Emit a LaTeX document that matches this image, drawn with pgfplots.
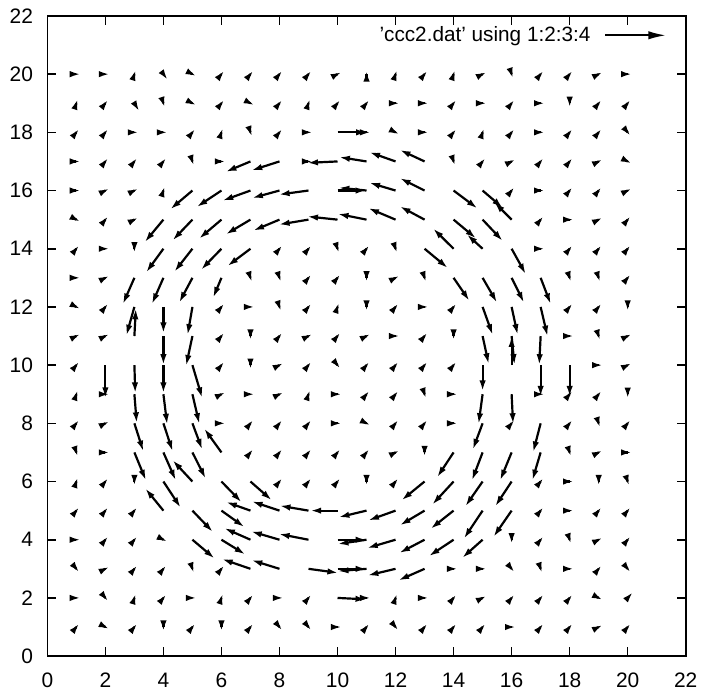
\documentclass[border=0pt]{standalone}
\usepackage{fontspec}
\setmainfont{Liberation Sans}
\usepackage{pgfplots}
\pgfplotsset{compat=1.18}
\usepackage{pgfplotstable}
\usetikzlibrary{arrows.meta}
\pgfplotsset{legarrow/.style={legend image code/.code={\draw[black, line width=1.1pt, -{Latex[length=9pt,width=4.2pt]}] (0pt,0pt) -- (30.5pt,0pt);}}}
\pgfplotstableread{
x y u v
1 20 0.15 0
2 20 0.15 0
3 20 0.05 0.15
4 20 0.15 -0.2
5 20 0.14 -0.07
6 20 0.1 0.12
7 20 0.1 0.12
8 20 0.1 0.12
9 20 0.1 0.12
10 20 0.14 0.07
11 20 0 0.12
12 20 0.05 0.15
13 20 0.1 0.12
14 20 0.05 0.15
15 20 0.14 0.07
16 20 0.05 -0.15
17 20 0.1 0.12
18 20 0.1 0.12
19 20 0.14 0.07
20 20 0.15 0
1 19 0.05 0.15
2 19 0.1 0.12
3 19 0.17 -0.28
4 19 0.05 -0.15
5 19 0.14 -0.07
6 19 0.1 0.12
7 19 0.14 -0.07
8 19 0.1 0.12
9 19 0.05 0.15
10 19 0.1 0.12
11 19 0.1 0.12
12 19 0.15 0
13 19 0.15 0
14 19 0.1 0.12
15 19 0.15 0
16 19 0.1 0.12
17 19 0.15 0
18 19 0 -0.15
19 19 0.1 0.12
20 19 0.1 0.12
1 18 0.1 0.12
2 18 0.1 0.12
3 18 0.15 0
4 18 0.15 0
5 18 0.1 0.12
6 18 0.05 0.15
7 18 0.05 -0.15
8 18 0.1 0.12
9 18 0.15 0
10 18 1.02 0
11 18 0.15 0
12 18 0.14 -0.07
13 18 0.15 0
14 18 0.1 0.12
15 18 0.05 0.15
16 18 0.1 0.12
17 18 0.15 0
18 18 0.1 0.12
19 18 0.1 0.12
20 18 0.1 -0.12
1 17 0.15 0
2 17 0.1 0.12
3 17 0.1 0.12
4 17 0.1 0.12
5 17 0.05 -0.15
6 17 0.15 0
7 17 -0.86 -0.36
8 17 -0.97 -0.31
9 17 0.15 0
10 17 -1.05 -0.05
11 17 -0.95 0.15
12 17 -0.91 0.32
13 17 -0.86 0.4
14 17 0.05 -0.15
15 17 0.1 0.12
16 17 0.14 0.07
17 17 0.1 0.12
18 17 0.1 0.12
19 17 0.14 0.07
20 17 0.14 -0.07
1 16 0.15 0
2 16 0.14 0.07
3 16 0.14 0.07
4 16 0.05 0.15
5 16 -0.77 -0.65
6 16 -0.86 -0.57
7 16 -0.97 -0.35
8 16 -0.95 -0.26
9 16 -1.03 -0.14
10 16 1.0 0
11 16 -0.97 0.1
12 16 -0.91 0.27
13 16 -0.86 0.43
14 16 0.83 -0.62
15 16 0.7 -0.6
16 16 0.1 0.12
17 16 0.15 0
18 16 0.1 0.12
19 16 0.1 0.12
20 16 0.14 0.07
1 15 0.14 -0.07
2 15 0.1 0.12
3 15 0.14 0.07
4 15 -0.65 -0.78
5 15 -0.69 -0.72
6 15 -0.78 -0.66
7 15 -0.86 -0.51
8 15 -0.91 -0.38
9 15 -1.03 -0.17
10 15 -1.05 0.11
11 15 -1.0 0.2
12 15 -0.95 0.4
13 15 -0.86 0.46
14 15 0.78 -0.65
15 15 0.7 -0.74
16 15 -0.6 0.6
17 15 0.1 0.12
18 15 0.15 0
19 15 0.14 0.07
20 15 0.1 0.12
1 14 0.1 0.12
2 14 0.15 0
3 14 0 -0.15
4 14 -0.6 -0.82
5 14 -0.63 -0.8
6 14 -0.71 -0.73
7 14 -0.8 -0.6
8 14 0.1 0.12
9 14 0.1 0.12
10 14 0.05 -0.15
11 14 0.1 0.12
12 14 0.05 -0.15
13 14 0.81 -0.67
14 14 -0.71 0.7
15 14 -0.55 0.5
16 14 0.49 -0.88
17 14 0.15 0
18 14 0.1 0.12
19 14 0.1 0.12
20 14 0.1 0.12
1 13 0.15 0
2 13 0.14 0.07
3 13 -0.4 -0.91
4 13 -0.4 -0.91
5 13 -0.46 -0.86
6 13 -0.29 -0.69
7 13 0.05 -0.15
8 13 0.05 -0.15
9 13 0.1 0.12
10 13 0.1 0.12
11 13 0 -0.15
12 13 0.14 0.07
13 13 0.05 -0.15
14 13 0.55 -0.8
15 13 0.5 -0.86
16 13 0.43 -0.86
17 13 0.35 -0.91
18 13 0.05 -0.15
19 13 0.05 -0.15
20 13 0.1 0.12
1 12 0.14 -0.07
2 12 0.1 0.12
3 12 -0.28 -0.99
4 12 0 -0.91
5 12 -0.17 -0.97
6 12 0.1 0.12
7 12 0.15 0
8 12 0.05 -0.15
9 12 0.1 0.12
10 12 0.05 0.15
11 12 0 -0.15
12 12 0.1 0.12
13 12 0.15 0
14 12 0.1 0.12
15 12 0.35 -0.97
16 12 0.21 -0.97
17 12 0.24 -1.02
18 12 0.1 0.12
19 12 0.1 0.12
20 12 0 -0.15
1 11 0.14 0.07
2 11 0.14 0.07
3 11 0.05 0.95
4 11 0 -1.0
5 11 -0.22 -1.03
6 11 0.1 0.12
7 11 0 -0.15
8 11 0.1 0.12
9 11 0.14 0.07
10 11 0.1 0.12
11 11 0.14 0.07
12 11 0.15 0
13 11 0.1 0.12
14 11 0 -0.15
15 11 0.21 -0.97
16 11 0.1 -1.0
17 11 -0.05 -1.0
18 11 0.15 0
19 11 0.05 -0.15
20 11 0.14 0.07
1 10 0.1 0.12
2 10 0 -1.14
3 10 0.03 -0.97
4 10 0 -0.97
5 10 0.34 -1.14
6 10 0.1 0.12
7 10 0 -0.15
8 10 0.14 0.07
9 10 0.1 0.12
10 10 0.1 -0.12
11 10 0.1 0.12
12 10 0.1 0.12
13 10 0.1 0.12
14 10 0.1 0.12
15 10 0 -0.9
16 10 0 1.0
17 10 0 -1.09
18 10 0 -1.09
19 10 0.15 0
20 10 0.14 0.07
1 9 0.05 0.15
2 9 0.15 0
3 9 0.08 -1.0
4 9 0.13 -1.05
5 9 0.24 -1.03
6 9 0.14 0.07
7 9 0.15 0
8 9 0.14 0.07
9 9 0.05 0.15
10 9 0.15 0
11 9 0.1 0.12
12 9 0.1 0.12
13 9 0.05 -0.15
14 9 0.15 0
15 9 -0.14 -1.03
16 9 0.05 -1.03
17 9 0.15 0
18 9 0.1 0.12
19 9 0.1 0.12
20 9 0 -0.15
1 8 0.1 0.12
2 8 0.14 0.07
3 8 0.31 -0.97
4 8 0.32 -0.97
5 8 0.34 -0.91
6 8 0.15 0
7 8 0.1 0.12
8 8 0.1 0.12
9 8 0.1 0.12
10 8 0.15 0
11 8 0.14 -0.07
12 8 0.1 0.12
13 8 0.1 0.12
14 8 0.15 0
15 8 -0.34 -0.91
16 8 0.1 0.12
17 8 -0.26 -1.0
18 8 0.1 0.12
19 8 0.05 -0.15
20 8 0.1 0.12
1 7 0.05 -0.15
2 7 0.15 0
3 7 0.4 -0.97
4 7 0.43 -0.97
5 7 0.46 -0.91
6 7 -0.6 0.83
7 7 0.1 0.12
8 7 0.1 0.12
9 7 0.1 0.12
10 7 0.1 0.12
11 7 0.1 0.12
12 7 0.14 0.07
13 7 0 -0.15
14 7 -0.57 -0.86
15 7 -0.37 -0.97
16 7 -0.4 -0.97
17 7 -0.29 -0.97
18 7 0.05 -0.15
19 7 0.14 0.07
20 7 0.15 0
1 6 0.05 0.15
2 6 0.1 0.12
3 6 0 -0.15
4 6 0.6 -0.91
5 6 -0.69 0.74
6 6 0.7 -0.72
7 6 0.74 -0.65
8 6 0.1 0.12
9 6 0.1 0.12
10 6 0.1 0.12
11 6 0 -0.15
12 6 0.1 0.12
13 6 -0.8 -0.65
14 6 -0.74 -0.8
15 6 -0.6 -0.86
16 6 -0.57 -0.86
17 6 0.1 0.12
18 6 0.15 0
19 6 0 -0.15
20 6 0.05 -0.15
1 5 0.1 0.12
2 5 0.1 0.12
3 5 0.1 0.12
4 5 -0.63 0.77
5 5 0.71 -0.74
6 5 0.8 -0.57
7 5 -0.85 0.3
8 5 -0.96 0.32
9 5 -1.0 0.17
10 5 -0.94 0
11 5 -0.97 -0.23
12 5 -0.95 -0.34
13 5 -0.86 -0.51
14 5 -0.8 -0.63
15 5 -0.65 -0.97
16 5 -0.63 -0.91
17 5 0.1 0.12
18 5 0.15 0
19 5 0.1 0.12
20 5 0.1 0.12
1 4 0.15 0
2 4 0.1 0.12
3 4 0.1 0.12
4 4 0.14 -0.07
5 4 0.77 -0.65
6 4 0.83 -0.51
7 4 -0.91 0.4
8 4 -0.99 0.29
9 4 -1.03 0.2
10 4 1.0 0
11 4 -1.0 -0.15
12 4 -0.99 -0.29
13 4 -0.88 -0.46
14 4 -0.86 -0.57
15 4 -0.71 -0.63
16 4 0 -0.15
17 4 0.1 0.12
18 4 0.05 -0.15
19 4 0.14 0.07
20 4 0.1 0.12
1 3 0.1 -0.12
2 3 0.14 0.07
3 3 0.1 0.12
4 3 0.1 0.12
5 3 0.05 -0.15
6 3 0.1 0.12
7 3 -0.99 0.34
8 3 -0.97 0.3
9 3 1.03 -0.14
10 3 1.0 0
11 3 -1.0 -0.08
12 3 -0.97 -0.23
13 3 -0.91 -0.4
14 3 0.15 0
15 3 0.15 0
16 3 0.1 -0.12
17 3 0.05 -0.15
18 3 0.15 0
19 3 0.1 0.12
20 3 0.1 -0.12
1 2 0.15 0
2 2 0.1 -0.12
3 2 0.05 0.15
4 2 0.1 0.12
5 2 0.15 0
6 2 0.05 0.15
7 2 0.1 0.12
8 2 0.15 0
9 2 0.1 0.12
10 2 1.0 -0.05
11 2 0.15 0
12 2 0.05 0.15
13 2 0.15 0
14 2 0.1 0.12
15 2 0.14 0.07
16 2 0.1 0.12
17 2 0.1 0.12
18 2 0.1 0.12
19 2 0.14 -0.07
20 2 0.18 0.2
1 1 0.1 0.12
2 1 0.14 -0.07
3 1 0.1 0.12
4 1 0 -0.15
5 1 0.1 0.12
6 1 0 -0.15
7 1 0.1 0.12
8 1 0.1 -0.12
9 1 0.1 -0.12
10 1 0.15 0
11 1 0.1 0.12
12 1 0.1 -0.12
13 1 0.1 0.12
14 1 0.1 0.12
15 1 0.1 0.12
16 1 0.15 0
17 1 0.1 0.12
18 1 0.1 0.12
19 1 0.14 0.07
20 1 0.1 0.12
}\field
\begin{document}
\begin{tikzpicture}
\begin{axis}[
  scale only axis,
  width=320.25pt, height=321.15pt,
  xmin=0, xmax=22, ymin=0, ymax=22,
  xtick={0,2,...,22}, ytick={0,2,...,22},
  tick align=inside, major tick length=4.5pt,
  axis line style={line width=0.8pt},
  every tick/.style={black, line width=0.8pt},
  /pgf/number format/assume math mode=true,
  tick label style={font=\fontsize{10.5}{12}\selectfont},
  yticklabel style={xshift=-3.7pt},
  xticklabel style={yshift=-4.8pt},
  legend plot pos=right,
  legend style={draw=none, fill=none, at={(axis description cs:1,1)}, anchor=north east,
    xshift=-6pt, yshift=-1pt, font=\fontsize{10.4}{12}\selectfont,
    /tikz/every odd column/.append style={column sep=5pt}},
]
\addplot[black, line width=1.1pt, -{Latex[length=5.5pt,width=3.2pt]},
  quiver={u=\thisrow{u}, v=\thisrow{v}}, forget plot]
  table {\field};
\addlegendimage{legarrow}
\addlegendentry{'ccc2.dat' using 1:2:3:4}
\end{axis}
\path (current axis.south west) ++(-23.75pt,-15.85pt);
\path (current axis.north east) ++(8pt,8pt);
\end{tikzpicture}
\end{document}
